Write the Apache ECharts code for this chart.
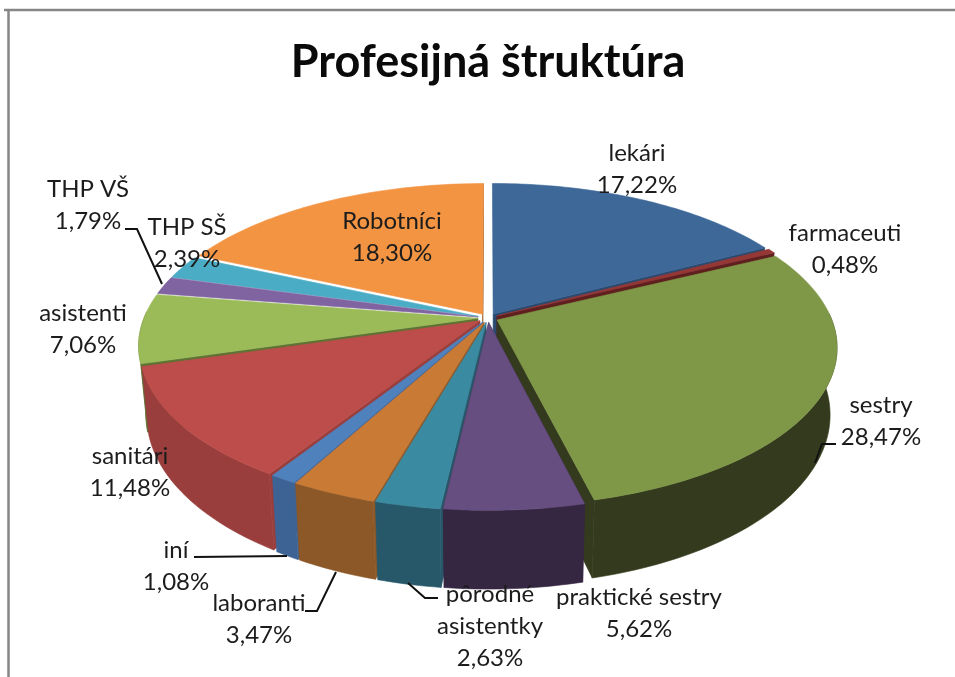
<!DOCTYPE html>
<html><head><meta charset="utf-8">
<style>html,body{margin:0;padding:0;background:#fff}#c{width:955px;height:677px}</style>
<script src="https://cdn.jsdelivr.net/npm/echarts@6/dist/echarts.min.js"></script>
</head><body><div id="c"></div>
<script>
// Data
const titleText = 'Profesijná štruktúra';
const categories = ['lekári','farmaceuti','sestry','praktické sestry','pôrodné\nasistentky','laboranti','iní','sanitári','asistenti','THP VŠ','THP SŠ','Robotníci'];
const shares = [17.22,0.48,28.47,5.62,2.63,3.47,1.08,11.48,7.06,1.79,2.39,18.30];

// Styles
const topColors  = ['#3d6898','#953735','#7f9848','#664e80','#3a8aa2','#c97b36','#4f81bd','#bc4d4a','#9bbb59','#8064a2','#4bacc6','#f39443'];
const wallColors = ['#2a4a70','#5f1f1e','#343a1d','#352642','#27586a','#8c5827','#3d6394','#993e3c','#5e7233','#4d3b63','#2c6d80','#9a5c25'];
// Label centres and leader lines (page pixels)
const labelCentres = [[637,153],[845,233],[881,405],[639,597],[490,594],[259,603],[176,550],[130,456],[83,313],[88,189],[187,227],[392,221]];
const leaders = [
  [[125,229],[137,229],[162,284]],
  [[194,557],[287,556]],
  [[305,611],[317,611],[336,572]],
  [[438,598],[425,598],[408,583]],
  [[836,444],[822,444],[815,463]]
];
// Projection of the tilted disc
const cx=488, cy=318, A=334, B=154, persp=0.17, explode=0.03, depth=65, bottomScale=0.98;
const lineH=32;

const total = shares.reduce((a,b)=>a+b,0);
function project(r,th,mid,low){
  const X=r*Math.sin(th)+explode*Math.sin(mid), Z=r*Math.cos(th)+explode*Math.cos(mid), w=1+persp*Z;
  let x=A*X/w, y=-B*Z/w;
  if(low){x*=bottomScale; y+=depth/w;}
  return [cx+x,cy+y];
}
function renderSlice(params,api){
  const i=params.dataIndex;
  let before=0; for(let k=0;k<i;k++) before+=shares[k];
  const a0=before/total*2*Math.PI, a1=(before+api.value(0))/total*2*Math.PI, mid=(a0+a1)/2;
  const n=Math.max(4,Math.ceil((a1-a0)/0.02));
  const topArc=[], lowArc=[], wallTop=[], wallLow=[];
  for(let k=0;k<=n;k++){
    const t=a0+(a1-a0)*k/n, p=project(1,t,mid,false), q=project(1,t,mid,true);
    topArc.push(p); lowArc.push(q);
    if(Math.cos(t)<0.05){wallTop.push(p); wallLow.push(q);}
  }
  const apexT=project(0,0,mid,false), apexL=project(0,0,mid,true);
  const z=Math.round((1-Math.cos(mid))*100);
  const wall=wallColors[i];
  const poly=(pts,fill,dz)=>({type:'polygon',z2:z+dz,shape:{points:pts},style:{fill:fill,stroke:fill,lineWidth:0.6}});
  const children=[];
  if(Math.cos(a0)<0.05) children.push(poly([apexT,topArc[0],lowArc[0],apexL],wall,0));
  if(Math.sin(a1)>-0.2 && a1>0.5) children.push(poly([apexT,topArc[n],lowArc[n],apexL],wall,0));
  if(wallTop.length>1) children.push(poly(wallTop.concat(wallLow.slice().reverse()),wall,1));
  children.push(poly([apexT].concat(topArc),topColors[i],2));
  return {type:'group',children:children};
}
const labelGraphics = categories.map((c,i)=>{
  const text=c+'\n'+shares[i].toFixed(2).replace('.',',')+'%';
  return {type:'text',z:50,x:labelCentres[i][0],y:labelCentres[i][1]-lineH/2,
    style:{text:text,fill:'#1c1c1c',font:'24px Lato',align:'center',verticalAlign:'top',lineHeight:lineH}};
});
const leaderGraphics = leaders.map(p=>({type:'polyline',z:40,shape:{points:p},style:{fill:null,stroke:'#111',lineWidth:2}}));
const frame=[
  {type:'line',z:60,shape:{x1:4,y1:10,x2:955,y2:10},style:{stroke:'#868686',lineWidth:2.5}},
  {type:'line',z:60,shape:{x1:8.5,y1:10,x2:8.5,y2:677},style:{stroke:'#868686',lineWidth:2.5}}
];
const chart=echarts.init(document.getElementById('c'),null,{renderer:'canvas'});
chart.setOption({
  animation:false,
  backgroundColor:'#fff',
  title:{text:titleText,left:483,top:35,textAlign:'center',textStyle:{fontFamily:'Lato',fontWeight:'bold',fontSize:45,color:'#0a0a0a'}},
  series:[{type:'custom',coordinateSystem:'none',renderItem:renderSlice,data:shares.map(v=>[v]),silent:true,encode:{value:0}}],
  graphic:{elements:frame.concat(leaderGraphics,labelGraphics)}
});
</script></body></html>
